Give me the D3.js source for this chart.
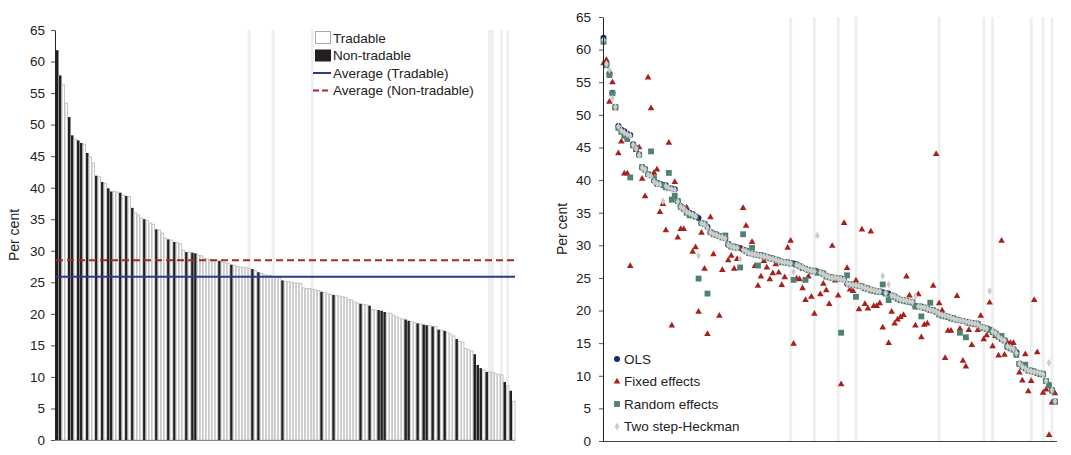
<!DOCTYPE html>
<html>
<head>
<meta charset="utf-8">
<script src="https://cdn.jsdelivr.net/npm/d3@7"></script>
<style>
  body { margin: 0; background: #fff; }
  svg { display: block; font-family: "Liberation Sans", Arial, sans-serif; }
</style>
</head>
<body>
<script>
// значения, упорядоченные по убыванию (один столбец = одна отрасль/страна)
const ols = [
  61.8,57.8,56.3,53.4,51.2,48.3,47.7,47.5,47.1,46.9,
  45.5,44.9,43.9,41.9,41.7,40.9,40.7,39.9,39.4,39.4,
  39.3,39.2,38.8,38.7,38.6,36.8,36.0,35.7,35.2,35.0,
  34.8,34.4,34.2,33.4,33.3,32.8,32.0,31.8,31.7,31.4,
  31.3,31.1,30.1,29.8,29.8,29.7,29.6,29.3,29.2,28.8,
  28.7,28.6,28.5,28.5,28.4,28.2,28.1,28.0,27.8,27.7,
  27.5,27.4,27.4,27.3,27.2,27.1,26.8,26.6,26.4,26.2,
  26.1,26.1,25.9,25.8,25.7,25.3,25.1,25.1,25.0,24.9,
  24.9,24.8,24.1,24.0,24.0,23.9,23.8,23.7,23.5,23.4,
  23.2,23.1,23.0,22.9,22.8,22.7,22.6,22.3,22.2,21.9,
  21.7,21.6,21.5,21.4,21.3,20.7,20.6,20.6,20.5,20.3,
  20.1,20.1,19.8,19.5,19.3,19.2,19.1,18.9,18.8,18.6,
  18.5,18.4,18.3,18.2,18.1,18.0,18.0,17.5,17.4,17.3,
  17.1,16.8,16.5,16.0,15.6,15.5,14.5,14.3,14.1,13.6,
  11.9,11.4,11.1,10.8,10.8,10.7,10.5,10.4,10.3,9.2,
  8.6,7.8,6.1
];

// номера столбцов неторгуемого сектора (чёрные)
const nonTradable = [0,1,4,5,7,8,10,13,15,17,18,21,23,25,29,33,37,39,43,45,46,54,58,65,67,
  75,88,92,101,104,107,108,109,116,117,120,122,123,125,127,129,133,139,140,141,143,149,151];

const avgTradable = 25.9;
const avgNonTradable = 28.5;

const fixedEffects = [
  57.9,58.4,52.0,55.0,51.0,44.1,45.9,41.0,41.0,26.8,
  45.3,44.6,45.0,40.2,37.5,55.7,51.0,41.1,41.6,35.1,
  36.3,32.3,45.7,17.7,39.7,31.2,32.5,32.5,35.8,34.8,
  29.0,29.7,19.8,31.9,26.4,16.4,34.3,28.6,31.5,19.2,
  26.2,31.0,27.7,28.4,26.4,27.9,29.5,35.7,33.0,28.8,
  30.5,26.8,23.8,25.2,27.6,26.6,24.8,25.7,27.1,25.8,
  23.9,25.1,29.6,30.7,14.9,24.9,24.8,23.4,21.6,25.2,
  22.1,19.5,26.0,22.5,24.1,23.1,21.0,29.9,24.6,22.3,
  8.7,33.4,26.5,23.2,23.0,24.6,20.2,32.4,21.0,20.3,
  32.1,20.7,20.7,21.1,17.4,22.6,15.0,19.8,18.0,18.6,
  19.0,19.3,25.2,22.3,21.3,17.7,22.5,15.9,17.8,18.0,
  20.0,23.8,44.0,21.1,20.0,12.7,16.9,16.9,18.7,22.2,
  17.2,12.3,11.4,17.0,14.7,18.0,17.0,19.2,15.6,16.2,
  21.2,14.5,16.1,13.1,30.7,13.2,15.1,15.0,15.0,13.5,
  10.5,9.25,13.3,7.6,9.2,21.6,13.6,10.2,7.4,7.9,
  0.9,5.9,7.3
];

const randomEffects = [
  61.2,57.6,56.1,53.3,51.2,48.0,47.4,46.8,46.3,40.4,
  45.3,44.9,43.9,42.0,41.6,40.9,44.4,40.3,39.6,39.4,
  39.2,38.9,41.1,37.0,37.6,36.8,35.9,35.6,35.0,34.6,
  34.6,34.4,24.9,33.4,33.3,22.6,32.0,31.7,31.6,31.4,
  31.2,31.5,30.2,29.8,29.7,29.6,26.6,31.7,29.1,28.8,
  29.6,28.6,26.9,28.4,28.3,28.2,28.0,27.9,27.8,27.6,
  27.4,27.4,27.3,27.2,24.7,27.0,26.8,26.5,24.7,26.2,
  26.0,26.1,25.8,25.8,25.6,25.2,25.1,25.0,25.0,24.9,
  16.6,24.8,25.4,24.0,23.9,22.1,23.8,23.7,23.4,23.3,
  23.1,23.0,22.9,22.9,24.0,22.6,21.6,22.3,22.1,21.8,
  21.6,21.5,21.4,21.3,21.2,20.6,20.6,19.1,20.4,20.3,
  21.2,20.0,19.8,19.4,19.2,19.1,19.0,18.8,18.7,18.6,
  16.6,18.4,15.9,18.1,18.0,17.9,17.9,17.4,17.3,17.2,
  17.0,16.7,16.4,16.0,16.1,15.4,14.4,14.2,14.0,13.2,
  11.8,11.4,11.7,10.8,10.7,10.6,10.4,10.3,10.2,9.2,
  8.5,7.7,6.0
];

const heckman = [
  61.5,57.8,56.9,52.5,51.2,48.2,47.6,47.3,47.0,46.8,
  45.4,44.8,43.8,41.9,41.6,40.8,40.6,39.8,39.4,39.3,
  36.8,39.1,38.8,38.6,38.5,36.7,35.9,35.6,35.1,34.9,
  34.7,34.4,28.4,33.4,33.2,32.7,32.0,31.7,31.6,31.3,
  31.2,31.0,30.1,29.8,29.7,29.6,27.9,29.3,29.1,28.8,
  28.7,28.6,28.5,28.4,28.3,28.2,28.0,27.9,27.8,27.6,
  27.5,27.4,27.3,27.2,25.9,27.0,26.8,26.6,26.4,26.2,
  26.1,26.0,31.5,25.8,25.6,25.3,25.1,25.0,25.0,24.9,
  24.8,24.7,24.1,24.0,23.9,23.9,23.8,23.6,23.5,23.3,
  23.2,23.1,23.0,22.9,25.3,22.7,24.0,22.3,22.2,21.9,
  21.7,21.6,21.5,21.4,21.3,22.2,20.6,20.5,20.5,20.3,
  20.1,20.0,19.8,19.5,19.3,19.2,19.1,18.9,18.7,18.6,
  18.5,18.4,18.3,18.2,18.1,18.0,17.9,17.5,17.4,17.2,
  23.0,16.8,16.5,16.0,15.6,15.4,14.5,14.3,14.1,13.5,
  11.9,11.4,11.1,10.8,10.7,10.6,10.5,10.4,10.2,9.2,
  12.0,7.8,6.1
];

// серые вертикальные полосы (номера позиций)
const bandsLeft = [64, 72, 85, 144, 145, 148, 150];
const bandsRight = [63, 71, 79, 85, 113, 128, 131, 144, 148, 151];

const yTicks = d3.range(0, 66, 5);

const width = 1071, height = 455;
const svg = d3.select("body").append("svg")
    .attr("width", width)
    .attr("height", height);

const idx = d3.range(ols.length);
const isNT = new Set(nonTradable);

// ---------- левый график: столбцы ----------
const xL = d3.scaleBand().domain(idx).range([55.5, 515]).padding(0);
const yL = d3.scaleLinear().domain([0, 65]).range([440, 30]);

svg.append("g")
  .selectAll("rect")
  .data(bandsLeft)
  .join("rect")
    .attr("x", d => xL(d))
    .attr("y", yL(65))
    .attr("width", xL.bandwidth())
    .attr("height", yL(0) - yL(65))
    .attr("fill", "#efefef");

svg.append("g")
  .selectAll("rect")
  .data(idx)
  .join("rect")
    .attr("x", i => xL(i) + 0.5)
    .attr("y", i => yL(ols[i]))
    .attr("width", xL.bandwidth() - 0.5)
    .attr("height", i => yL(0) - yL(ols[i]))
    .attr("fill", i => isNT.has(i) ? "#231f20" : "none")
    .attr("stroke", i => isNT.has(i) ? "none" : "#c4c4c4")
    .attr("stroke-width", 1);

// линии средних
svg.append("line")
    .attr("x1", 56).attr("x2", 515)
    .attr("y1", yL(avgNonTradable)).attr("y2", yL(avgNonTradable))
    .attr("stroke", "#a3292a").attr("stroke-width", 2)
    .attr("stroke-dasharray", "7,4");
svg.append("line")
    .attr("x1", 56).attr("x2", 515)
    .attr("y1", yL(avgTradable)).attr("y2", yL(avgTradable))
    .attr("stroke", "#2b3a8f").attr("stroke-width", 2);

// оси
const yAxisL = svg.append("g")
    .attr("transform", "translate(55,0)")
    .call(d3.axisLeft(yL).tickValues(yTicks).tickSize(4).tickPadding(6).tickSizeOuter(0));
yAxisL.select(".domain").attr("stroke", "#222");
yAxisL.selectAll(".tick line").attr("stroke", "#555");
yAxisL.selectAll("text").attr("font-size", 13.5).attr("fill", "#222")
    .attr("font-family", "Liberation Sans, Arial, sans-serif");

svg.append("line")
    .attr("x1", 55).attr("x2", 515)
    .attr("y1", 440.5).attr("y2", 440.5)
    .attr("stroke", "#888");

svg.append("text")
    .attr("transform", `translate(19,${yL(32.5)}) rotate(-90)`)
    .attr("text-anchor", "middle")
    .attr("font-size", 14).attr("fill", "#222")
    .text("Per cent");

// легенда левого графика
const legL = svg.append("g").attr("font-size", 13.5).attr("fill", "#222");
const legItemsL = [
  {label: "Tradable", kind: "t"},
  {label: "Non-tradable", kind: "n"},
  {label: "Average (Tradable)", kind: "avgT"},
  {label: "Average (Non-tradable)", kind: "avgN"}
];
legItemsL.forEach((d, i) => {
  const yy = 38 + i * 17.5;
  if (d.kind === "t") {
    legL.append("rect").attr("x", 315.5).attr("y", yy - 6.5).attr("width", 15).attr("height", 12)
      .attr("fill", "#fff").attr("stroke", "#aaa");
  } else if (d.kind === "n") {
    legL.append("rect").attr("x", 315).attr("y", yy - 6).attr("width", 16).attr("height", 12)
      .attr("fill", "#231f20");
  } else {
    legL.append("line").attr("x1", 313).attr("x2", 331).attr("y1", yy).attr("y2", yy)
      .attr("stroke", d.kind === "avgT" ? "#2b3a8f" : "#a3292a")
      .attr("stroke-width", 2)
      .attr("stroke-dasharray", d.kind === "avgN" ? "6,3" : null);
  }
  legL.append("text").attr("x", 333).attr("y", yy).attr("dy", "0.35em").text(d.label);
});

// ---------- правый график: точки ----------
const xR = d3.scaleLinear().domain([0, ols.length - 1]).range([603.5, 1055]);
const yR = d3.scaleLinear().domain([0, 65]).range([441, 17]);
const step = xR(1) - xR(0);

svg.append("g")
  .selectAll("rect")
  .data(bandsRight)
  .join("rect")
    .attr("x", d => xR(d) - step / 2)
    .attr("y", yR(65))
    .attr("width", step)
    .attr("height", yR(0) - yR(65))
    .attr("fill", "#efefef");

const colOLS = "#1b2a6e", colFE = "#a8201d", colRE = "#4f8272", colHK = "#cdcdcd";
const tri = d3.symbol().type(d3.symbolTriangle).size(19)();
const sq = d3.symbol().type(d3.symbolSquare).size(34)();
const dia = d3.symbol().type(d3.symbolDiamond).size(18)();

svg.append("g")
  .selectAll("circle")
  .data(idx)
  .join("circle")
    .attr("cx", i => xR(i))
    .attr("cy", i => yR(ols[i]))
    .attr("r", 3)
    .attr("fill", colOLS);

svg.append("g")
  .selectAll("path")
  .data(idx)
  .join("path")
    .attr("transform", i => `translate(${xR(i)},${yR(fixedEffects[i])})`)
    .attr("d", tri)
    .attr("fill", colFE);

svg.append("g")
  .selectAll("path")
  .data(idx)
  .join("path")
    .attr("transform", i => `translate(${xR(i)},${yR(randomEffects[i])})`)
    .attr("d", sq)
    .attr("fill", colRE);

svg.append("g")
  .selectAll("path")
  .data(idx)
  .join("path")
    .attr("transform", i => `translate(${xR(i)},${yR(heckman[i])})`)
    .attr("d", dia)
    .attr("fill", colHK);

const yAxisR = svg.append("g")
    .attr("transform", "translate(603,0)")
    .call(d3.axisLeft(yR).tickValues(yTicks).tickSize(4).tickPadding(8).tickSizeOuter(0));
yAxisR.select(".domain").attr("stroke", "#222");
yAxisR.selectAll(".tick line").attr("stroke", "#555");
yAxisR.selectAll("text").attr("font-size", 13.5).attr("fill", "#222")
    .attr("font-family", "Liberation Sans, Arial, sans-serif");

svg.append("line")
    .attr("x1", 603).attr("x2", 1057)
    .attr("y1", 441.5).attr("y2", 441.5)
    .attr("stroke", "#444");

svg.append("text")
    .attr("transform", `translate(567,${yR(32.5)}) rotate(-90)`)
    .attr("text-anchor", "middle")
    .attr("font-size", 14).attr("fill", "#222")
    .text("Per cent");

// легенда правого графика
const legR = svg.append("g").attr("font-size", 13.5).attr("fill", "#222");
const legItemsR = [
  {label: "OLS", sym: "c", col: colOLS},
  {label: "Fixed effects", sym: tri, col: colFE},
  {label: "Random effects", sym: sq, col: colRE},
  {label: "Two step-Heckman", sym: dia, col: colHK}
];
legItemsR.forEach((d, i) => {
  const yy = 359 + i * 22.5;
  if (d.sym === "c") {
    legR.append("circle").attr("cx", 617).attr("cy", yy).attr("r", 3).attr("fill", d.col);
  } else {
    legR.append("path").attr("transform", `translate(617,${yy})`).attr("d", d.sym).attr("fill", d.col);
  }
  legR.append("text").attr("x", 624).attr("y", yy).attr("dy", "0.35em").text(d.label);
});
</script>
</body>
</html>
